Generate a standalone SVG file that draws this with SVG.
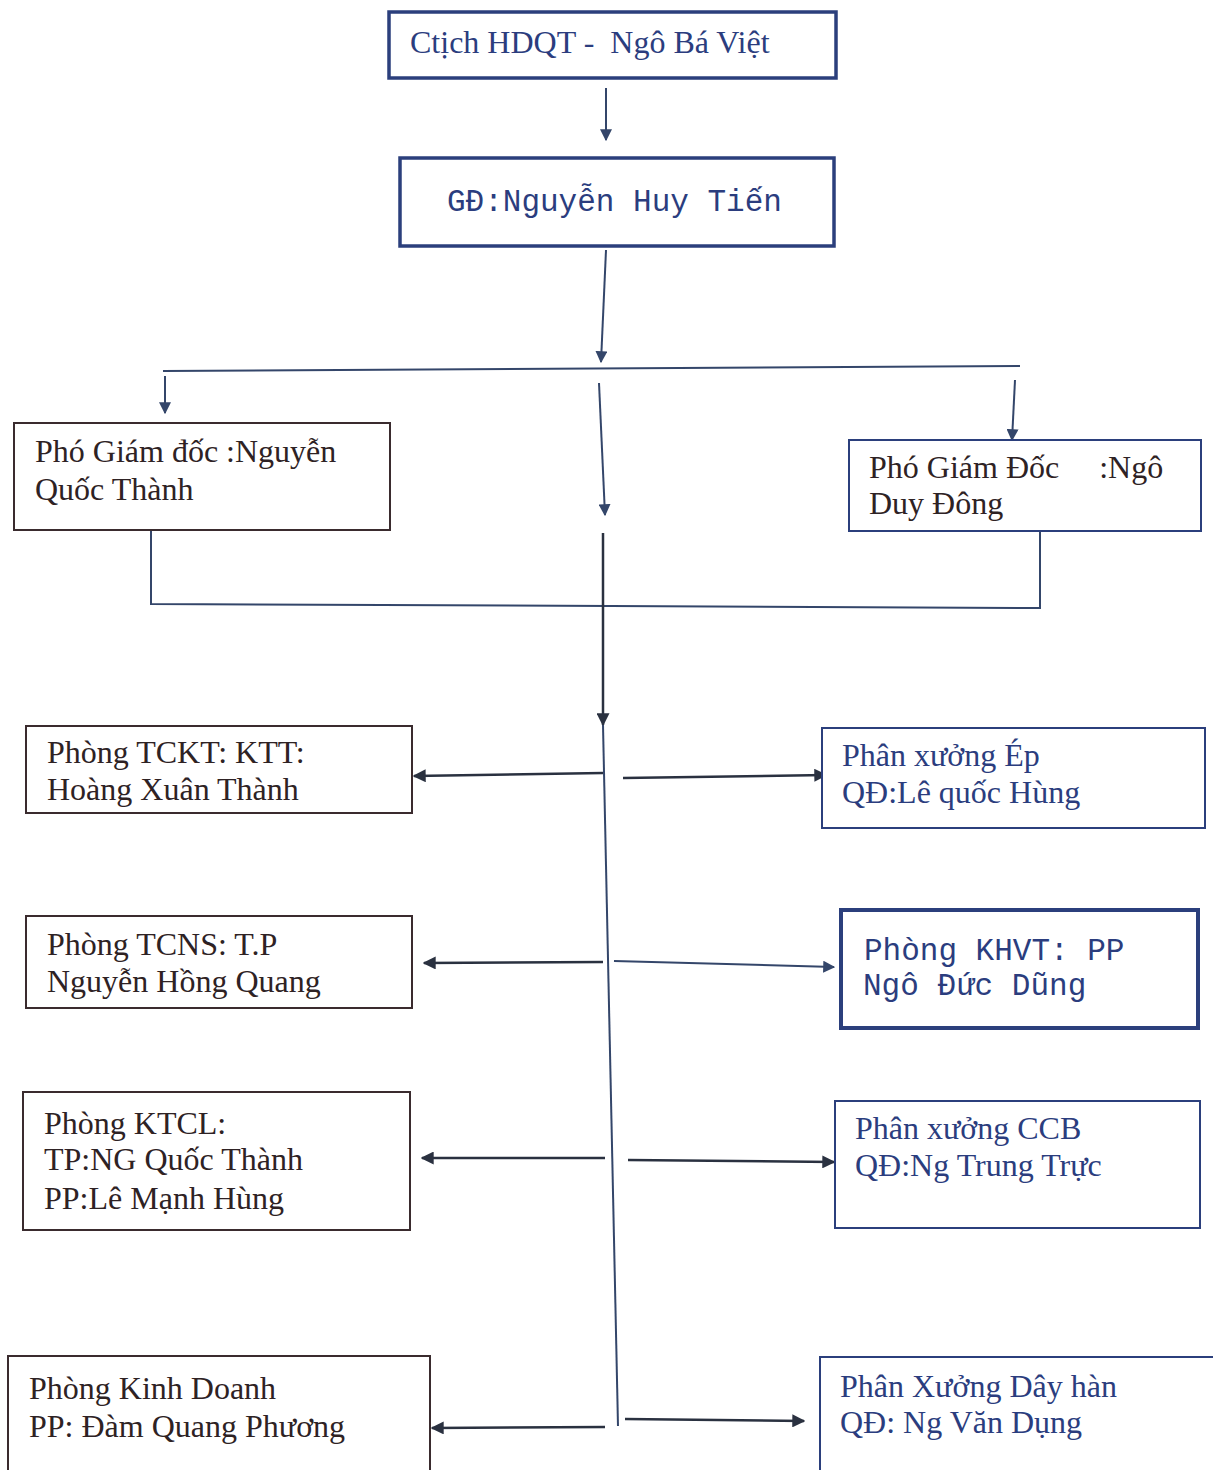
<svg xmlns="http://www.w3.org/2000/svg" width="1213" height="1470" viewBox="0 0 1213 1470">
<style>
.bg{fill:#ffffff}
.box{fill:#ffffff;stroke-width:2}
.bl{stroke:#2b3f7c}
.dk{stroke:#3a2b2e}
.thick{stroke-width:3.5}
.t{font-family:"Liberation Serif","Times New Roman",serif;font-size:32px}
.m{font-family:"Liberation Mono","Courier New",monospace;font-size:31px}
.tb{fill:#2b3d7e}
.td{fill:#2e2224}
.c{fill:none;stroke:#34466a;stroke-width:2}
.cd{fill:none;stroke:#2a3140;stroke-width:2.5}
</style>
<defs>
<marker id="ah" viewBox="0 0 10 10" refX="9" refY="5" markerWidth="12" markerHeight="12" markerUnits="userSpaceOnUse" orient="auto">
<path d="M0,0 L10,5 L0,10 z" fill="#34466a"/>
</marker>
<marker id="ahd" viewBox="0 0 10 10" refX="9" refY="5" markerWidth="13" markerHeight="13" markerUnits="userSpaceOnUse" orient="auto">
<path d="M0,0 L10,5 L0,10 z" fill="#2a3140"/>
</marker>
</defs>
<rect class="bg" x="0" y="0" width="1213" height="1470"/>

<g id="connectors">
<line class="c" x1="606" y1="88" x2="606" y2="140" marker-end="url(#ah)"/>
<line class="c" x1="606" y1="250" x2="601" y2="362" marker-end="url(#ah)"/>
<line class="c" x1="163" y1="371" x2="1020" y2="366"/>
<line class="c" x1="165" y1="376" x2="165" y2="413" marker-end="url(#ah)"/>
<line class="c" x1="1015" y1="380" x2="1012" y2="440" marker-end="url(#ah)"/>
<line class="c" x1="599" y1="383" x2="605" y2="515" marker-end="url(#ah)"/>
<polyline class="c" points="151,530 151,604 1040,608 1040,531"/>
<line class="cd" x1="603" y1="533" x2="603" y2="725" marker-end="url(#ahd)"/>
<line class="c" x1="603" y1="725" x2="618" y2="1426"/>
<line class="cd" x1="603" y1="773" x2="414" y2="776" marker-end="url(#ahd)"/>
<line class="cd" x1="623" y1="778" x2="826" y2="775" marker-end="url(#ahd)"/>
<line class="cd" x1="603" y1="962" x2="424" y2="963" marker-end="url(#ahd)"/>
<line class="c" x1="614" y1="961" x2="834" y2="967" marker-end="url(#ah)"/>
<line class="cd" x1="605" y1="1158" x2="422" y2="1158" marker-end="url(#ahd)"/>
<line class="cd" x1="628" y1="1160" x2="834" y2="1162" marker-end="url(#ahd)"/>
<line class="cd" x1="605" y1="1427" x2="432" y2="1428" marker-end="url(#ahd)"/>
<line class="cd" x1="625" y1="1419" x2="804" y2="1421" marker-end="url(#ahd)"/>
</g>

<g id="n-chutich">
<rect class="box bl thick" x="389" y="12" width="447" height="66"/>
<text class="t tb" x="410" y="53" xml:space="preserve">Ctịch HDQT -  Ngô Bá Việt</text>
</g>

<g id="n-gd">
<rect class="box bl thick" x="400" y="158" width="434" height="88"/>
<text class="m tb" x="447" y="211">GĐ:Nguyễn Huy Tiến</text>
</g>

<g id="n-pgd1">
<rect class="box dk" x="14" y="423" width="376" height="107"/>
<text class="t td" x="35" y="462">Phó Giám đốc :Nguyễn</text>
<text class="t td" x="35" y="500">Quốc Thành</text>
</g>

<g id="n-pgd2">
<rect class="box bl" x="849" y="440" width="352" height="91"/>
<text class="t td" x="869" y="478" xml:space="preserve">Phó Giám Đốc     :Ngô</text>
<text class="t td" x="869" y="514">Duy Đông</text>
</g>

<g id="n-tckt">
<rect class="box dk" x="26" y="726" width="386" height="87"/>
<text class="t td" x="47" y="763">Phòng TCKT: KTT:</text>
<text class="t td" x="47" y="800">Hoàng Xuân Thành</text>
</g>

<g id="n-ep">
<rect class="box bl" x="822" y="728" width="383" height="100"/>
<text class="t tb" x="842" y="766">Phân xưởng Ép</text>
<text class="t tb" x="842" y="803">QĐ:Lê quốc Hùng</text>
</g>

<g id="n-tcns">
<rect class="box dk" x="26" y="916" width="386" height="92"/>
<text class="t td" x="47" y="955">Phòng TCNS: T.P</text>
<text class="t td" x="47" y="992">Nguyễn Hồng Quang</text>
</g>

<g id="n-khvt">
<rect class="box bl" style="stroke-width:4" x="841" y="910" width="357" height="118"/>
<text class="m tb" x="864" y="960">Phòng KHVT: PP</text>
<text class="m tb" x="863" y="995">Ngô Đức Dũng</text>
</g>

<g id="n-ktcl">
<rect class="box dk" x="23" y="1092" width="387" height="138"/>
<text class="t td" x="44" y="1134">Phòng KTCL:</text>
<text class="t td" x="44" y="1170">TP:NG Quốc Thành</text>
<text class="t td" x="44" y="1209">PP:Lê Mạnh Hùng</text>
</g>

<g id="n-ccb">
<rect class="box bl" x="835" y="1101" width="365" height="127"/>
<text class="t tb" x="855" y="1139">Phân xưởng CCB</text>
<text class="t tb" x="855" y="1176">QĐ:Ng Trung Trực</text>
</g>

<g id="n-kd">
<rect class="box dk" x="8" y="1356" width="422" height="120"/>
<text class="t td" x="29" y="1399">Phòng Kinh Doanh</text>
<text class="t td" x="29" y="1437">PP: Đàm Quang Phương</text>
</g>

<g id="n-dayhan">
<rect class="box bl" x="820" y="1357" width="400" height="120"/>
<text class="t tb" x="840" y="1397">Phân Xưởng Dây hàn</text>
<text class="t tb" x="840" y="1433">QĐ: Ng Văn Dụng</text>
</g>
</svg>
